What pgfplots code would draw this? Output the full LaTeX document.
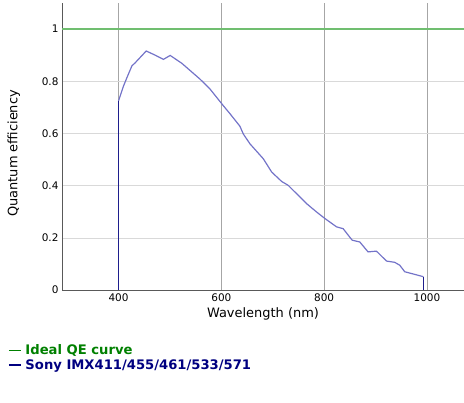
\documentclass[border=0pt]{standalone}
\usepackage{pgfplots}
\pgfplotsset{compat=1.18}
\usepackage{fontspec}
\setmainfont{DejaVu Sans}
\definecolor{idealgreen}{RGB}{112,190,112}
\definecolor{curveblue}{RGB}{115,115,200}
\definecolor{navyline}{RGB}{30,30,140}
\definecolor{legendgreen}{RGB}{0,128,0}
\definecolor{legendnavy}{RGB}{0,0,128}
\begin{document}
\begin{tikzpicture}
\path[use as bounding box] (0,0) rectangle (464bp,403bp);
\begin{axis}[
  at={(62bp,113bp)}, anchor=south west,
  scale only axis, width=402bp, height=287bp,
  xmin=290, xmax=1072, ymin=0, ymax=1.1,
  axis lines=left, axis line style={-, draw=black!65, line width=0.8pt},
  xtick={400,600,800,1000}, xticklabels={400,600,800,1000},
  ytick={0,0.2,0.4,0.6,0.8,1}, yticklabels={0,0.2,0.4,0.6,0.8,1},
  major tick length=0pt,
  grid=major,
  x grid style={black!35, line width=0.6pt},
  y grid style={black!15, line width=0.6pt},
  tick label style={font=\fontsize{10.5}{12}\selectfont},
  label style={font=\fontsize{13}{15}\selectfont},
  xlabel={Wavelength (nm)}, ylabel={Quantum efficiency},
  xlabel style={at={(axis description cs:0.5,-0.0836)}, anchor=center},
  ylabel style={at={(axis description cs:-0.12,0.476)}, anchor=center},
  legend style={at={(axis description cs:-0.142,-0.178)}, anchor=north west,
    draw=none, fill=none, font=\bfseries\fontsize{13.2}{15.6}\selectfont,
    row sep=0pt, column sep=2.5bp, nodes={inner sep=1.5bp}},
  legend cell align=left,
  legend image code/.code={\draw (0bp,0bp) -- (12bp,0bp);},
]
\addplot[idealgreen, line width=2.2pt, forget plot] coordinates {(290,1) (1072,1)};
\addplot[curveblue, line width=1.2pt, forget plot] coordinates {
(400,0.725) (409.7,0.782) (416.3,0.814) (426,0.859) (432.4,0.871)
(453.8,0.916) (471.3,0.900) (487.4,0.884) (500.4,0.899) (523,0.869)
(558.6,0.808) (578,0.770) (604,0.706) (617,0.675) (636,0.628)
(642.7,0.598) (655.7,0.560) (681.6,0.503) (697.9,0.452) (717.3,0.416)
(730.1,0.401) (739.8,0.382) (765.8,0.331) (785.2,0.299) (801.4,0.274)
(824.1,0.242) (836.9,0.235) (854.4,0.191) (869.3,0.184) (885.4,0.146)
(901.7,0.149) (921.2,0.111) (937.3,0.106) (947.0,0.095) (956.7,0.070)
(993,0.051)
};
\addplot[navyline, line width=1.1pt, forget plot] coordinates {(400,0) (400,0.725)};
\addplot[navyline, line width=1.1pt, forget plot] coordinates {(993,0.051) (993,0)};
\addlegendimage{legendgreen, line width=1.4pt}
\addlegendentry{\textcolor{legendgreen}{Ideal QE curve}}
\addlegendimage{legendnavy, line width=1.4pt}
\addlegendentry{\textcolor{legendnavy}{Sony IMX411/455/461/533/571}}
\end{axis}
\end{tikzpicture}
\end{document}
